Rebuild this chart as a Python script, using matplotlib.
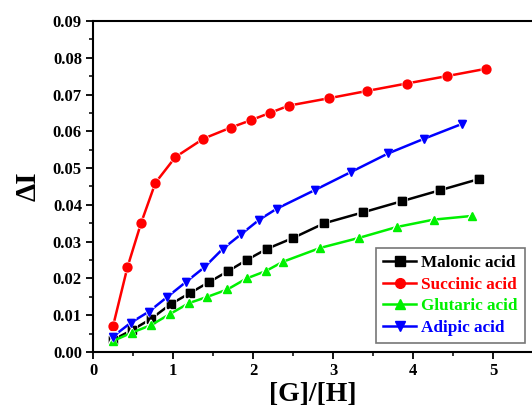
import matplotlib
matplotlib.use("Agg")
import matplotlib.pyplot as plt
from matplotlib.ticker import MultipleLocator, FormatStrFormatter
from matplotlib.lines import Line2D

plt.rcParams['font.family'] = ['Liberation Serif', 'DejaVu Serif']
plt.rcParams['font.weight'] = 'bold'

labels = ["Malonic acid", "Succinic acid", "Glutaric acid", "Adipic acid"]
colors = ["#000000", "#FF0000", "#00F000", "#0000FF"]
markers = ["s", "o", "^", "v"]

x_malonic = [0.25, 0.49, 0.725, 0.97, 1.21, 1.45, 1.69, 1.92, 2.17, 2.50, 2.89, 3.38, 3.86, 4.34, 4.82]
y_malonic = [0.0033, 0.006, 0.009, 0.013, 0.016, 0.019, 0.022, 0.025, 0.028, 0.031, 0.035, 0.038, 0.041, 0.044, 0.047]

x_succinic = [0.25, 0.43, 0.60, 0.78, 1.03, 1.38, 1.72, 1.97, 2.21, 2.45, 2.95, 3.43, 3.92, 4.42, 4.91]
y_succinic = [0.007, 0.023, 0.035, 0.046, 0.053, 0.058, 0.061, 0.063, 0.065, 0.067, 0.069, 0.071, 0.073, 0.075, 0.077]

x_glutaric = [0.25, 0.49, 0.725, 0.96, 1.20, 1.43, 1.68, 1.92, 2.16, 2.37, 2.84, 3.32, 3.80, 4.26, 4.74]
y_glutaric = [0.003, 0.0053, 0.0073, 0.0103, 0.0133, 0.015, 0.017, 0.020, 0.022, 0.0245, 0.0283, 0.031, 0.034, 0.036, 0.037]

x_adipic = [0.25, 0.475, 0.70, 0.93, 1.16, 1.39, 1.62, 1.85, 2.08, 2.30, 2.77, 3.23, 3.69, 4.14, 4.61]
y_adipic = [0.0042, 0.008, 0.011, 0.015, 0.019, 0.023, 0.028, 0.032, 0.036, 0.039, 0.044, 0.049, 0.054, 0.058, 0.062]

xs = [x_malonic, x_succinic, x_glutaric, x_adipic]
ys = [y_malonic, y_succinic, y_glutaric, y_adipic]

fig = plt.figure(figsize=(5.32, 4.09), dpi=100)
ax = fig.add_axes([93/532, 57/409, 440/532, 331/409])

for x, y, c, m, lab in zip(xs, ys, colors, markers, labels):
    ax.plot(x, y, color=c, marker=m, markersize=7.2, linewidth=1.8,
            markeredgecolor='white', markeredgewidth=1.2, markerfacecolor=c,
            label=lab)
    ax.plot(x, y, linestyle='none', marker=m, markersize=6.4, color=c)

ax.set_xlim(0, 5.5)
ax.set_ylim(0, 0.09)
ax.xaxis.set_major_locator(MultipleLocator(1))
ax.xaxis.set_minor_locator(MultipleLocator(0.5))
ax.yaxis.set_major_locator(MultipleLocator(0.01))
ax.yaxis.set_minor_locator(MultipleLocator(0.005))
ax.yaxis.set_major_formatter(FormatStrFormatter('%.2f'))
ax.tick_params(which='major', direction='out', length=5, width=1.3, labelsize=12, pad=3)
ax.tick_params(which='minor', direction='out', length=3, width=1.1)
ax.tick_params(top=False, right=False)
for s in ['left', 'bottom', 'top']:
    ax.spines[s].set_linewidth(1.5)
ax.spines['right'].set_visible(False)

ax.set_xlabel('[G]/[H]', fontsize=20, fontweight='bold', labelpad=2)
ax.set_ylabel('ΔI', fontsize=21, fontweight='bold', labelpad=8)

handles = []
for c, m in zip(colors, markers):
    handles.append(Line2D([], [], color=c, marker=m, markersize=7, linewidth=1.8))
leg = ax.legend(handles, labels, loc='lower right', bbox_to_anchor=(0.982, 0.026),
                fontsize=12.3, frameon=True, fancybox=False, handlelength=1.9,
                handletextpad=0.3, borderpad=0.45, labelspacing=0.32,
                borderaxespad=0)
leg.get_frame().set_edgecolor('#555555')
leg.get_frame().set_linewidth(1.2)
for t, c in zip(leg.get_texts(), colors):
    t.set_color(c)
    t.set_fontweight('bold')

fig.savefig('out.png', dpi=100)
